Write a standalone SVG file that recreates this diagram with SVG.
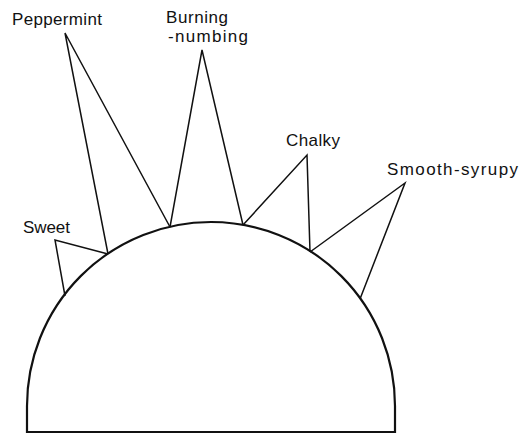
<svg xmlns="http://www.w3.org/2000/svg" width="521" height="435" viewBox="0 0 521 435">
<style>
text{font-family:"Liberation Sans","DejaVu Sans",sans-serif;font-size:17px;fill:#111}
.spike{fill:none;stroke:#111;stroke-width:1.5;stroke-linejoin:miter}
.dome{fill:#fff;stroke:#111;stroke-width:2.2;stroke-linejoin:miter}
</style>
<rect width="521" height="435" fill="#fff"/>
<g id="dome">
<path class="dome" d="M27,432 L27,406 A184,184 0 0 1 395,406 L395,432 Z"/>
</g>
<g id="connectors">
<polyline class="spike" points="65,296 55,240 108,254"/>
<polyline class="spike" points="108,254 65,33 170,227"/>
<polyline class="spike" points="170,227 202,50 243,225"/>
<polyline class="spike" points="243,225 307,155 310,252"/>
<polyline class="spike" points="310,252 405,183 360,299"/>
</g>
<g id="sweet"><text x="23" y="233" textLength="47" lengthAdjust="spacing">Sweet</text></g>
<g id="peppermint"><text x="12" y="25" textLength="90" lengthAdjust="spacing">Peppermint</text></g>
<g id="burning"><text x="166" y="23" textLength="62" lengthAdjust="spacing">Burning</text><text x="168" y="42" textLength="80" lengthAdjust="spacing">-numbing</text></g>
<g id="chalky"><text x="286" y="146" textLength="54" lengthAdjust="spacing">Chalky</text></g>
<g id="smooth"><text x="387" y="175" textLength="131" lengthAdjust="spacing">Smooth-syrupy</text></g>
</svg>
